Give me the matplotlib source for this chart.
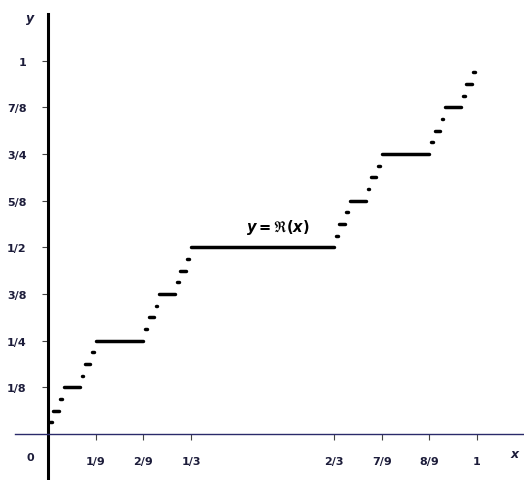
import matplotlib
matplotlib.use('Agg')
import matplotlib.pyplot as plt

# plateaus of the Cantor function, x in units of 1/243, y in units of 1/32
step_lo = [1, 3, 7, 9, 19, 21, 25, 27, 55, 57, 61, 63, 73, 75, 79, 81,
           163, 165, 169, 171, 181, 183, 187, 189, 217, 219, 223, 225, 235, 237, 241]
step_hi = [2, 6, 8, 18, 20, 24, 26, 54, 56, 60, 62, 72, 74, 78, 80, 162,
           164, 168, 170, 180, 182, 186, 188, 216, 218, 222, 224, 234, 236, 240, 242]
step_y = [1, 2, 3, 4, 5, 6, 7, 8, 9, 10, 11, 12, 13, 14, 15, 16,
          17, 18, 19, 20, 21, 22, 23, 24, 25, 26, 27, 28, 29, 30, 31]

xtick_vals = [1/9, 2/9, 1/3, 2/3, 7/9, 8/9, 1]
xtick_text = ['1/9', '2/9', '1/3', '2/3', '7/9', '8/9', '1']
ytick_vals = [1/8, 1/4, 3/8, 1/2, 5/8, 3/4, 7/8, 1]
ytick_text = ['1/8', '1/4', '3/8', '1/2', '5/8', '3/4', '7/8', '1']

ink = '#1c1c3a'

fig = plt.figure(figsize=(5.24, 4.81), dpi=100)
ax = fig.add_axes([0, 0, 1, 1])
ax.set_xlim(-48/429, 476/429)
ax.set_ylim(-46/373.5, 435/373.5)

for lo, hi, yy in zip(step_lo, step_hi, step_y):
    ax.plot([lo/243, hi/243], [yy/32, yy/32], color='black', lw=2.5,
            solid_capstyle='round')

# axes
ax.spines['top'].set_visible(False)
ax.spines['right'].set_visible(False)
ax.spines['left'].set_position(('data', 0))
ax.spines['bottom'].set_position(('data', 0))
ax.spines['left'].set_bounds(-0.13, 1.1245)
ax.spines['left'].set_linewidth(2.2)
ax.spines['left'].set_color('black')
ax.spines['bottom'].set_bounds(-0.077, 1.12)
ax.spines['bottom'].set_linewidth(1.0)
ax.spines['bottom'].set_color('#2a2a6a')

ax.set_xticks(xtick_vals)
ax.set_xticklabels(xtick_text)
ax.set_yticks(ytick_vals)
ax.set_yticklabels(ytick_text)
ax.tick_params(axis='x', direction='out', length=4, width=0.8, color='#444444',
               pad=12, labelsize=8, labelcolor=ink)
ax.tick_params(axis='y', direction='out', length=4.5, width=0.8, color='#444444',
               pad=11, labelsize=8, labelcolor=ink)
for lab in ax.get_xticklabels() + ax.get_yticklabels():
    lab.set_fontweight('bold')

ax.text(-18/429, -23/373.5, '0', ha='center', va='center', fontsize=8,
        fontweight='bold', color=ink)
ax.text(467/429, -20/373.5, 'x', ha='center', va='center', fontsize=9,
        fontstyle='italic', fontweight='bold', color=ink)
ax.text(-18/429, 417/373.5, 'y', ha='center', va='center', fontsize=9,
        fontstyle='italic', fontweight='bold', color=ink)
ax.text(0.535, 0.555, r'$\boldsymbol{y = \mathfrak{R}(x)}$', ha='center', va='center',
        fontsize=10.5, color='black')

plt.savefig('out.png', dpi=100)
